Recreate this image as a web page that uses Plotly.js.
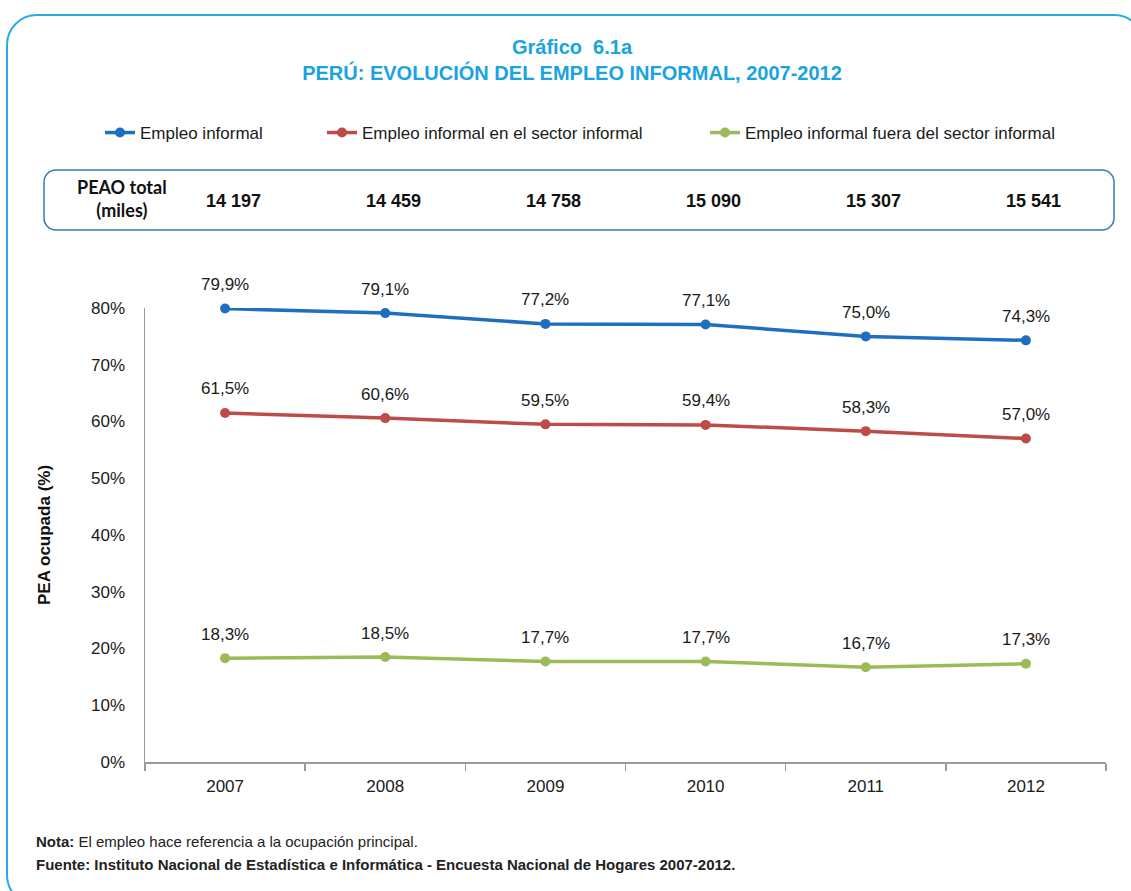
<!DOCTYPE html>
<html>
<head>
<meta charset="utf-8">
<script src="https://cdn.plot.ly/plotly-3.0.1.min.js"></script>
<style>html,body{margin:0;padding:0;background:#fff;}#chart{width:1131px;height:891px;}</style>
</head>
<body>
<div id="chart"></div>
<script>
// ---- data ----
const years = ["2007", "2008", "2009", "2010", "2011", "2012"];
const empleoInformal = [79.9, 79.1, 77.2, 77.1, 75.0, 74.3];
const enSectorInformal = [61.5, 60.6, 59.5, 59.4, 58.3, 57.0];
const fueraSectorInformal = [18.3, 18.5, 17.7, 17.7, 16.7, 17.3];
const peaoTotal = ["14 197", "14 459", "14 758", "15 090", "15 307", "15 541"];
const seriesNames = ["Empleo informal", "Empleo informal en el sector informal", "Empleo informal fuera del sector informal"];
const yTickVals = [0, 10, 20, 30, 40, 50, 60, 70, 80];
const yTickText = ["0%", "10%", "20%", "30%", "40%", "50%", "60%", "70%", "80%"];

// ---- layout helpers ----
const W = 1131, H = 891;
const px = x => x / W;
const py = y => 1 - y / H;
const P = (x, y) => px(x) + "," + py(y);
function roundRect(x0, y0, x1, y1, r) {
  const k = r * 0.4477;
  return "M" + P(x0 + r, y0) + " L" + P(x1 - r, y0) +
    " C" + P(x1 - k, y0) + " " + P(x1, y0 + k) + " " + P(x1, y0 + r) +
    " L" + P(x1, y1 - r) +
    " C" + P(x1, y1 - k) + " " + P(x1 - k, y1) + " " + P(x1 - r, y1) +
    " L" + P(x0 + r, y1) +
    " C" + P(x0 + k, y1) + " " + P(x0, y1 - k) + " " + P(x0, y1 - r) +
    " L" + P(x0, y0 + r) +
    " C" + P(x0, y0 + k) + " " + P(x0 + k, y0) + " " + P(x0 + r, y0) + " Z";
}
const fmt = v => v.toFixed(1).replace(".", ",") + "%";
const FONT = "'Liberation Sans', Arial, sans-serif";

const colors = ["#1F6FC1", "#BE4B48", "#9BBB59"];
const allSeries = [empleoInformal, enSectorInformal, fueraSectorInformal];
const legendIds = ["legend", "legend2", "legend3"];

const traces = allSeries.map((vals, i) => ({
  type: "scatter",
  mode: "lines+markers",
  name: seriesNames[i],
  x: years,
  y: vals,
  line: {color: colors[i], width: 3.5},
  marker: {color: colors[i], size: 10},
  legend: legendIds[i],
  cliponaxis: false,
  hoverinfo: "skip"
}));

const legendBase = {
  orientation: "h",
  yanchor: "middle",
  y: py(133),
  xanchor: "left",
  font: {family: FONT, size: 17, color: "#1a1a1a"},
  bgcolor: "rgba(0,0,0,0)",
  borderwidth: 0
};

const annotations = [
  {xref: "paper", yref: "paper", x: px(122), y: py(199), xanchor: "center", yanchor: "middle",
   text: "<b>PEAO total<br>(miles)</b>", showarrow: false,
   font: {family: "Lato, 'Open Sans', sans-serif", size: 18, color: "#111"}},
  {xref: "paper", yref: "paper", x: px(34), y: py(841), xanchor: "left", yanchor: "middle",
   text: "<b>Nota:</b> El empleo hace referencia a la ocupación principal.", showarrow: false,
   font: {family: FONT, size: 15, color: "#222"}},
  {xref: "paper", yref: "paper", x: px(34), y: py(864), xanchor: "left", yanchor: "middle",
   text: "<b>Fuente: Instituto Nacional de Estadística e Informática - Encuesta Nacional de Hogares 2007-2012.</b>", showarrow: false,
   font: {family: FONT, size: 15, color: "#222"}}
];
peaoTotal.forEach((v, i) => annotations.push({
  xref: "x", yref: "paper", x: i, y: py(201), xshift: 8,
  xanchor: "center", yanchor: "middle", text: "<b>" + v + "</b>", showarrow: false,
  font: {family: FONT, size: 18, color: "#111"}
}));
// data labels
allSeries.forEach(vals => vals.forEach((v, i) => annotations.push({
  xref: "x", yref: "y", x: i, y: v, yshift: 24,
  xanchor: "center", yanchor: "middle", text: fmt(v), showarrow: false,
  font: {family: FONT, size: 17, color: "#1a1a1a"}
})));

const layout = {
  width: W, height: H,
  margin: {l: 0, r: 0, t: 0, b: 0},
  paper_bgcolor: "#fff", plot_bgcolor: "rgba(0,0,0,0)",
  title: {
    text: "<b>Gráfico  6.1a<br>PERÚ: EVOLUCIÓN DEL EMPLEO INFORMAL, 2007-2012</b>",
    font: {family: FONT, size: 20, color: "#1AA3E0"},
    xref: "paper", yref: "paper", x: px(572), xanchor: "center", y: py(54), yanchor: "middle"
  },
  xaxis: {
    type: "category",
    domain: [px(145), px(1106)],
    range: [-0.5, 5.5],
    showline: true, linecolor: "#9a9a9a", linewidth: 1.5,
    showgrid: false, zeroline: false,
    ticks: "outside", tickson: "boundaries", ticklen: 7, tickwidth: 1.5, tickcolor: "#9a9a9a",
    tickfont: {family: FONT, size: 17, color: "#1a1a1a"},
    ticklabelstandoff: 8,
    fixedrange: true
  },
  yaxis: {
    domain: [py(762), py(308)],
    range: [0, 80],
    tickmode: "array",
    tickvals: yTickVals,
    ticktext: yTickText,
    showline: true, linecolor: "#9a9a9a", linewidth: 1.5,
    showgrid: false, zeroline: false,
    ticks: "",
    ticklabelstandoff: 15,
    tickfont: {family: FONT, size: 17, color: "#1a1a1a"},
    title: {text: "<b>PEA ocupada (%)</b>", font: {family: FONT, size: 17, color: "#111"}, standoff: 36},
    fixedrange: true
  },
  legend: Object.assign({}, legendBase, {x: px(100)}),
  legend2: Object.assign({}, legendBase, {x: px(322)}),
  legend3: Object.assign({}, legendBase, {x: px(705)}),
  shapes: [
    {type: "path", xref: "paper", yref: "paper", path: roundRect(7, 15, 1144, 905, 30),
     line: {color: "#29ABE2", width: 2}, fillcolor: "rgba(0,0,0,0)", layer: "below"},
    {type: "path", xref: "paper", yref: "paper", path: roundRect(44, 170, 1114, 230, 12),
     line: {color: "#2E7BC4", width: 1.5}, fillcolor: "rgba(0,0,0,0)", layer: "below"}
  ],
  annotations: annotations,
  hovermode: false,
  showlegend: true
};

Plotly.newPlot("chart", traces, layout, {displayModeBar: false, staticPlot: true});
</script>
</body>
</html>
